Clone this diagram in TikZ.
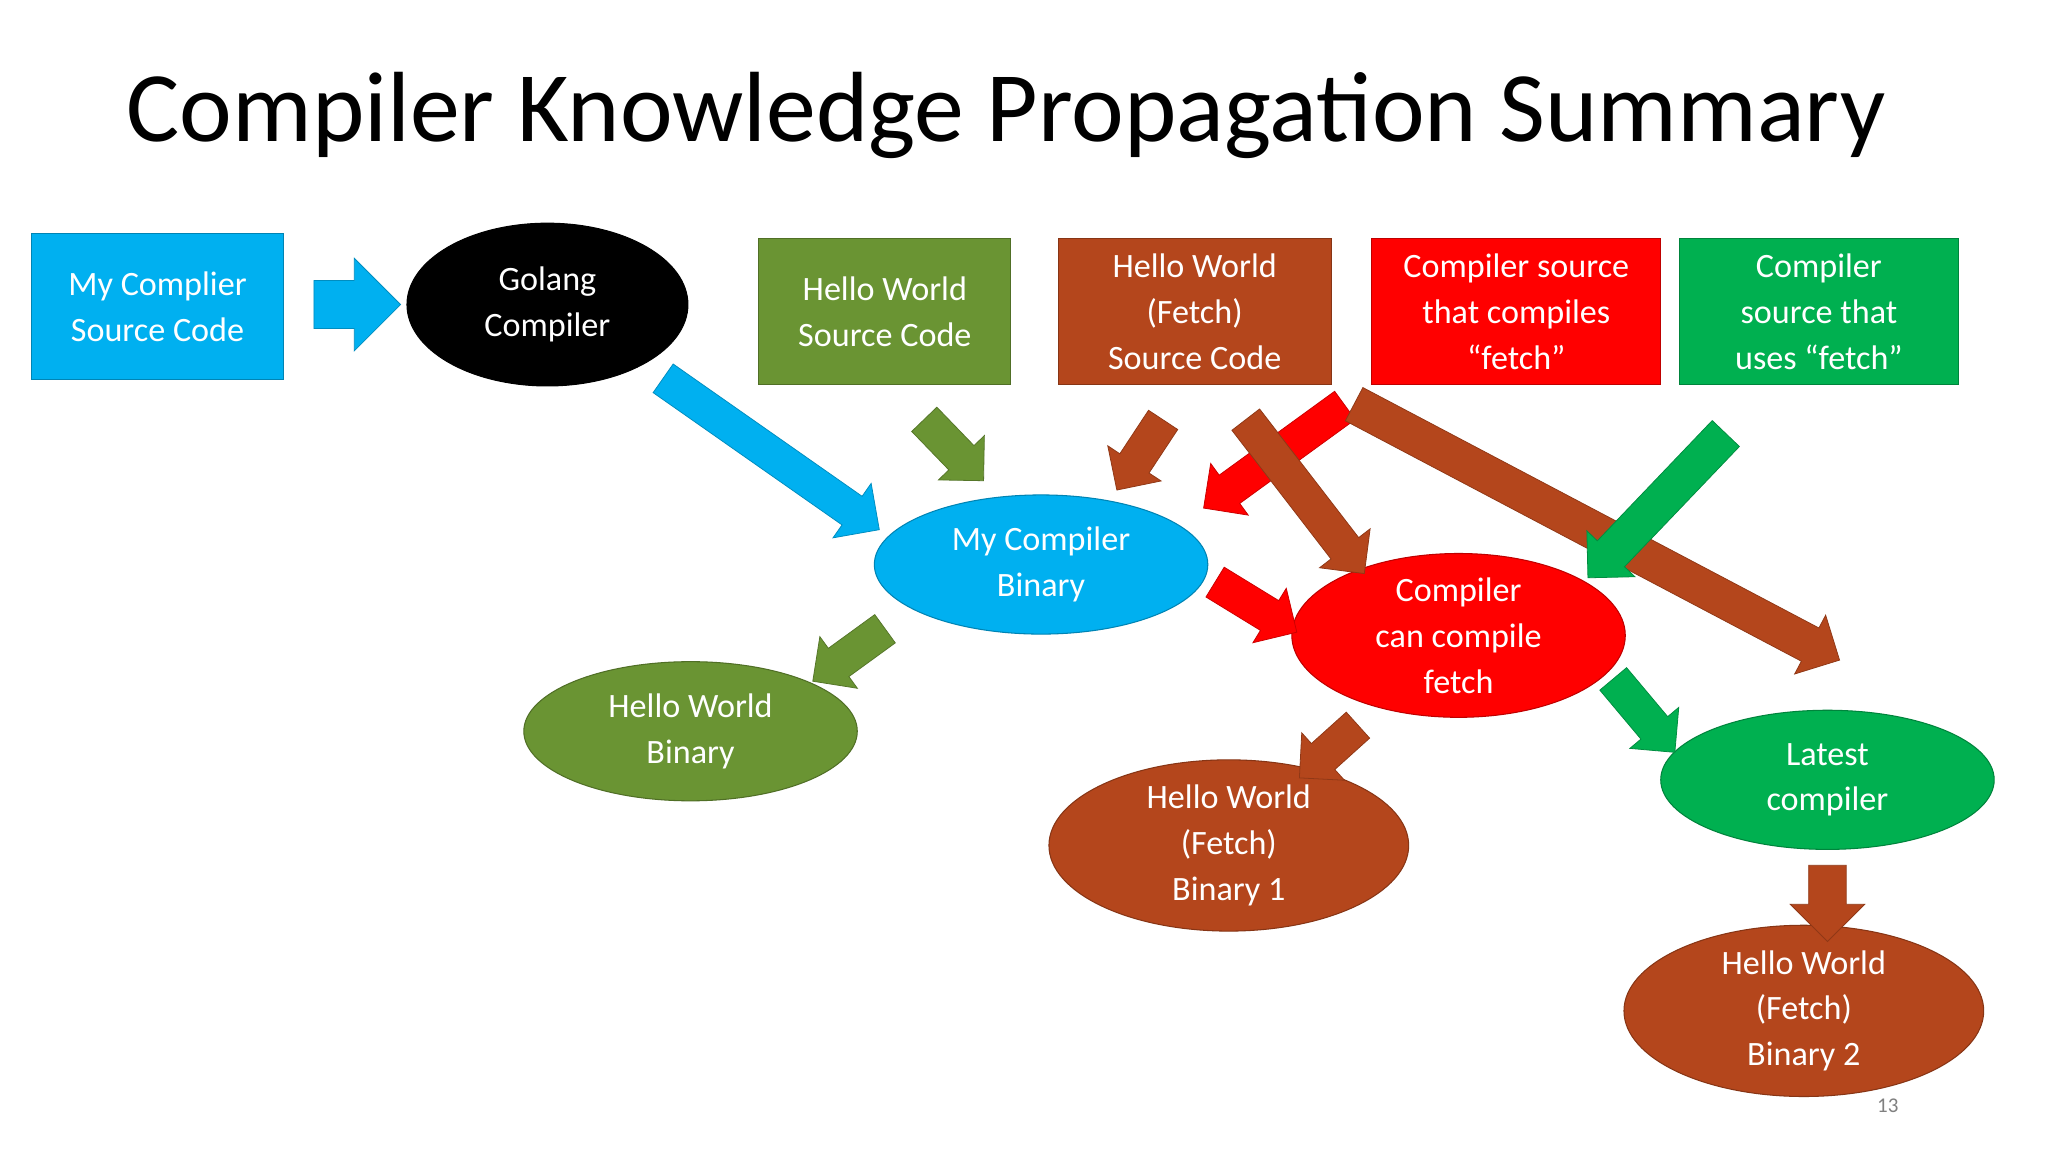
\documentclass[tikz,border=0pt]{standalone}
\usepackage{fontspec}
\setmainfont{Carlito}
\usetikzlibrary{shapes.geometric,shapes.arrows}
\definecolor{cblue}{HTML}{00B0F0}
\definecolor{olive}{HTML}{6A9433}
\definecolor{rust}{HTML}{B4461C}
\definecolor{cred}{HTML}{FF0000}
\definecolor{cgreen}{HTML}{00B050}
\newcommand{\barrow}[8]{\node[single arrow, fill=#2, draw=#2!80!black, line width=0.6pt, inner xsep=0pt, inner ysep=#7/2, single arrow head extend=#8, minimum height=#5, rotate=#6] (#1) at (#3,#4) {};}
\begin{document}
\begin{tikzpicture}[x=1pt,y=-1pt,
  box/.style={draw=#1!75!black, fill=#1, text=white, line width=0.8pt, align=center, font=\fontsize{26}{35}\selectfont, minimum height=111pt, inner sep=0pt},
  ell/.style={ellipse, draw=#1!75!black, fill=#1, text=white, line width=0.8pt, align=center, font=\fontsize{26}{35}\selectfont, inner sep=0pt}]
\useasboundingbox[fill=white] (0,0) rectangle (1560,877.5);
\node[anchor=base west, font=\fontsize{76}{80}\selectfont] (title) at (93,108) {Compiler Knowledge Propagation Summary};
\node[box=cblue, minimum width=192pt] (mcs) at (120,233.5) {My Complier\\Source Code};
\node[ell=black, minimum width=214pt, minimum height=124pt] (gc) at (417,232) {Golang\\Compiler};
\node[box=olive, minimum width=192pt] (hws) at (674,237.5) {Hello World\\Source Code};
\node[box=rust, minimum width=208pt] (hfs) at (910,237.5) {Hello World\\(Fetch)\\Source Code};
\node[box=cred, minimum width=220pt] (csf) at (1155,237.5) {Compiler source\\that compiles\\“fetch”};
\node[box=cgreen, minimum width=213pt] (csu) at (1385.5,237.5) {Compiler\\source that\\uses “fetch”};
\node[ell=cblue, minimum width=254pt, minimum height=106pt] (mcb) at (793,430) {My Compiler\\Binary};
\node[ell=olive, minimum width=254pt, minimum height=106pt] (hwb) at (526,557) {Hello World\\Binary};
\node[ell=cred, minimum width=254pt, minimum height=104pt] (ccf) at (1111,484) {Compiler\\can compile\\fetch};
\node[ell=rust, minimum width=274pt, minimum height=106pt] (hb1) at (936,644) {Hello World\\(Fetch)\\Binary 1};
\node[ell=cgreen, minimum width=254pt, minimum height=106pt] (lc) at (1392,594) {Latest\\compiler};
\node[ell=rust, minimum width=274pt, minimum height=106pt] (hb2) at (1374,770) {Hello World\\(Fetch)\\Binary 2};
\node[text=gray, font=\fontsize{16}{18}\selectfont] (pg) at (1438,842) {13};
\barrow{a1}{cblue}{263}{232}{66}{0}{36pt}{17pt}
\barrow{a2}{cblue}{582}{342}{201}{-35}{26pt}{12pt}
\barrow{a3}{olive}{722}{338}{65}{-46}{26pt}{11pt}
\barrow{a4}{rust}{872}{341}{64}{-123.4}{26pt}{11pt}
\barrow{a5}{cred}{976}{344}{133}{-144}{26pt}{11pt}
\barrow{a6}{rust}{990}{373}{148}{-52.4}{26pt}{11pt}
\barrow{a7}{rust}{1210}{402}{418}{-27.8}{28pt}{11pt}
\barrow{a8}{cgreen}{1267}{380}{152}{-133.7}{28pt}{11pt}
\barrow{a9}{olive}{652}{495}{68}{-144}{26pt}{11pt}
\barrow{a10}{cred}{951}{459}{73}{-31.5}{26pt}{11pt}
\barrow{a11}{rust}{1017}{568}{60}{-138}{26pt}{11pt}
\barrow{a12}{cgreen}{1248}{540}{73}{-50}{26pt}{11pt}
\barrow{a13}{rust}{1392}{681}{58}{-90}{28pt}{14pt}
\end{tikzpicture}
\end{document}
